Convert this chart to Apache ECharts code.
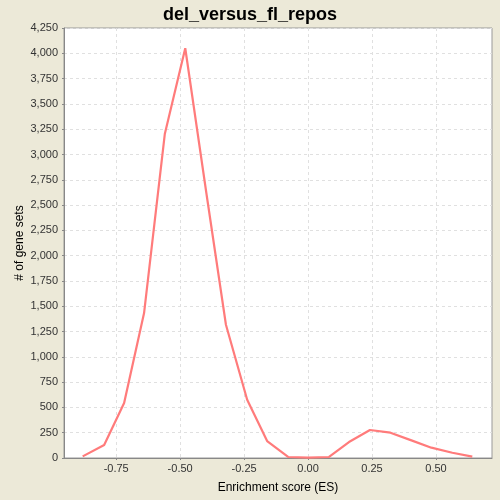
<!DOCTYPE html>
<html>
<head>
<meta charset="utf-8">
<script src="https://cdn.jsdelivr.net/npm/echarts@6/dist/echarts.min.js"></script>
<style>html,body{margin:0;padding:0;background:#ECE9D8;}#c{width:500px;height:500px;}</style>
</head>
<body>
<div id="c"></div>
<script>
var esValues = [-0.881, -0.797, -0.719, -0.641, -0.560, -0.480, -0.397, -0.321, -0.238, -0.160, -0.078, 0.000, 0.082, 0.160, 0.242, 0.322, 0.404, 0.482, 0.564, 0.642];
var geneSetCounts = [16, 128, 544, 1433, 3202, 4050, 2609, 1317, 576, 168, 10, 3, 10, 158, 277, 250, 174, 102, 52, 13];
var xTicks = [-0.75, -0.5, -0.25, 0, 0.25, 0.5];
var title = 'del_versus_fl_repos';

var chart = echarts.init(document.getElementById('c'));
var font = 'Liberation Sans, Arial, sans-serif';
chart.setOption({
  backgroundColor: '#ECE9D8',
  animation: false,
  title: {
    text: title, left: 'center', top: 1,
    textStyle: {fontFamily: font, fontSize: 18, fontWeight: 'bold', color: '#000'}
  },
  grid: {left: 64, top: 28, right: 8, bottom: 42, show: true, backgroundColor: '#fff', borderColor: '#999', borderWidth: 1},
  xAxis: {
    type: 'value', min: -0.954, max: 0.719,
    name: 'Enrichment score (ES)', nameLocation: 'middle', nameGap: 24, nameMoveOverlap: false,
    nameTextStyle: {fontFamily: font, fontSize: 12, color: '#000'},
    axisLine: {show: true, onZero: false, lineStyle: {color: '#888'}},
    axisTick: {show: true, length: 2, lineStyle: {color: '#888'}, customValues: xTicks},
    axisLabel: {customValues: xTicks, fontFamily: font, fontSize: 11, color: '#333', margin: 5,
      formatter: function (v) { return v.toFixed(2); }},
    splitLine: {show: true, lineStyle: {color: '#e0e0e0', type: [3, 3]}}
  },
  yAxis: {
    type: 'value', min: 0, max: 4250, interval: 250,
    name: '# of gene sets', nameLocation: 'middle', nameGap: 38, nameMoveOverlap: false,
    nameTextStyle: {fontFamily: font, fontSize: 12, color: '#000'},
    axisLine: {show: true, onZero: false, lineStyle: {color: '#888'}},
    axisTick: {show: true, length: 2, lineStyle: {color: '#888'}},
    axisLabel: {fontFamily: font, fontSize: 11, color: '#333', margin: 6,
      formatter: function (v) { return v.toLocaleString('en-US'); }},
    splitLine: {show: true, lineStyle: {color: '#e0e0e0', type: [3, 3]}}
  },
  series: [{
    type: 'line',
    data: esValues.map(function (x, i) { return [x, geneSetCounts[i]]; }),
    showSymbol: false, symbol: 'none',
    lineStyle: {color: '#FF7B7B', width: 2.2},
    itemStyle: {color: '#FF7B7B'}
  }]
});
</script>
</body>
</html>
